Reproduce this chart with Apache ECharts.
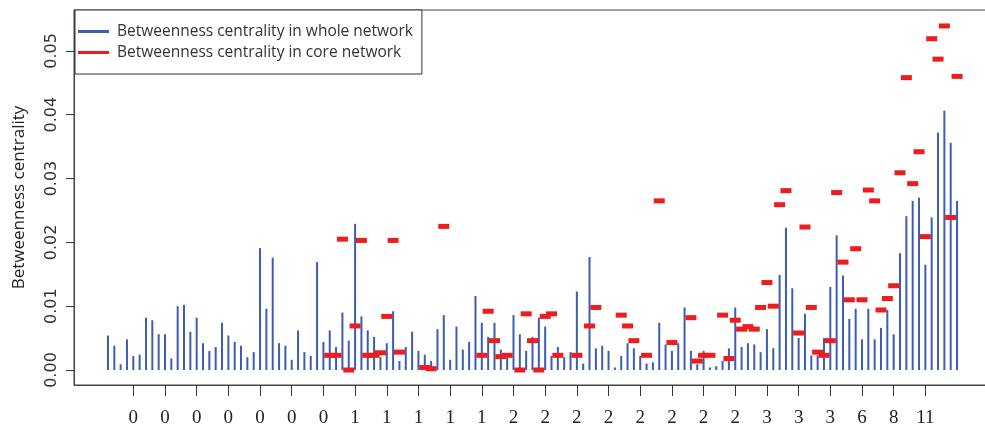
<!DOCTYPE html>
<html>
<head>
<meta charset="utf-8">
<script src="https://cdn.jsdelivr.net/npm/echarts@6/dist/echarts.min.js"></script>
<style>
html,body{margin:0;padding:0;background:#fff;}
#chart{width:985px;height:429px;}
</style>
</head>
<body>
<div id="chart"></div>
<script>
// Betweenness centrality in whole network, bars 1..135
const wholeValues = [
  0.0054,0.0038,0.0009,0.0048,0.0022,0.0024,0.0082,0.0078,0.0056,0.0056,
  0.0018,0.0100,0.0102,0.0060,0.0082,0.0042,0.0030,0.0036,0.0074,0.0054,
  0.0044,0.0038,0.0020,0.0028,0.0191,0.0096,0.0176,0.0042,0.0038,0.0016,
  0.0062,0.0028,0.0022,0.0169,0.0044,0.0062,0.0036,0.0090,0.0046,0.0229,
  0.0084,0.0062,0.0052,0.0020,0.0042,0.0092,0.0014,0.0036,0.0060,0.0030,
  0.0024,0.0014,0.0064,0.0086,0.0016,0.0068,0.0032,0.0044,0.0116,0.0074,
  0.0052,0.0074,0.0032,0.0020,0.0086,0.0056,0.0030,0.0052,0.0082,0.0068,
  0.0022,0.0036,0.0020,0.0028,0.0123,0.0010,0.0177,0.0034,0.0038,0.0030,
  0.0004,0.0022,0.0042,0.0034,0.0022,0.0010,0.0012,0.0074,0.0040,0.0030,
  0.0042,0.0098,0.0030,0.0009,0.0030,0.0004,0.0006,0.0014,0.0034,0.0098,
  0.0036,0.0042,0.0040,0.0028,0.0064,0.0034,0.0149,0.0223,0.0128,0.0050,
  0.0088,0.0023,0.0023,0.0050,0.0130,0.0211,0.0148,0.0080,0.0096,0.0048,
  0.0096,0.0048,0.0066,0.0094,0.0056,0.0183,0.0241,0.0265,0.0270,0.0165,
  0.0239,0.0372,0.0406,0.0356,0.0265
];
// Betweenness centrality in core network: bar positions and values
const coreBars = [
  36,37,38,39,40,41,42,43,44,45,46,47,51,52,54,60,61,62,63,64,
  66,67,68,69,70,71,72,75,77,78,82,83,84,86,88,90,93,94,95,96,
  98,99,100,101,102,103,104,105,106,107,108,110,111,112,113,114,115,116,117,118,
  119,120,121,122,123,124,125,126,127,128,129,130,131,132,133,134,135
];
const coreValues = [
  0.0023,0.0023,0.0205,0.0000,0.0069,0.0203,0.0023,0.0023,0.0027,0.0084,0.0203,0.0028,0.0004,0.0002,0.0225,0.0023,0.0092,0.0046,0.0021,0.0023,
  0.0000,0.0088,0.0046,0.0000,0.0084,0.0088,0.0023,0.0023,0.0069,0.0098,0.0086,0.0069,0.0046,0.0023,0.0265,0.0043,0.0082,0.0014,0.0023,0.0023,
  0.0086,0.0018,0.0078,0.0064,0.0068,0.0064,0.0098,0.0137,0.0100,0.0259,0.0281,0.0058,0.0224,0.0098,0.0028,0.0023,0.0046,0.0278,0.0169,0.0110,
  0.0190,0.0110,0.0282,0.0265,0.0094,0.0112,0.0132,0.0309,0.0458,0.0292,0.0342,0.0209,0.0519,0.0487,0.0539,0.0239,0.0460
];
// x-axis ticks and their labels
const xTickPositions = [5,10,15,20,25,30,35,40,45,50,55,60,65,70,75,80,85,90,95,100,105,110,115,120,125,130];
const xTickLabels = ['0','0','0','0','0','0','0','1','1','1','1','1','2','2','2','2','2','2','2','2','3','3','3','6','8','11'];
const yTickValues = [0, 0.01, 0.02, 0.03, 0.04, 0.05];
const seriesNames = ['Betweenness centrality in whole network', 'Betweenness centrality in core network'];
const yAxisTitle = 'Betweenness centrality';

const wholeData = wholeValues.map((v, i) => [i + 1, v]);
const coreData = coreBars.map((b, i) => [b, coreValues[i]]);

const chart = echarts.init(document.getElementById('chart'), null, {renderer: 'canvas'});
chart.setOption({
  animation: false,
  backgroundColor: '#fff',
  grid: {
    left: 74, top: 10, width: 917, height: 375,
    outerBoundsMode: 'none',
    containLabel: false,
    show: true, borderColor: '#444', borderWidth: 1, backgroundColor: 'transparent'
  },
  legend: {
    orient: 'vertical',
    left: 75, top: 10,
    padding: [13, 9, 13, 3],
    itemGap: 4,
    itemWidth: 31,
    itemHeight: 3,
    borderColor: '#333', borderWidth: 1, backgroundColor: '#fff',
    selectedMode: false,
    textStyle: {fontFamily: 'Open Sans', fontSize: 15.5, color: '#333', lineHeight: 17, padding: [0, 0, 0, 3]},
    data: [
      {name: seriesNames[0], icon: 'rect'},
      {name: seriesNames[1], icon: 'rect'}
    ]
  },
  xAxis: {
    type: 'value',
    min: -4.36, max: 140.36,
    axisLine: {show: true, onZero: false, lineStyle: {color: '#444'}},
    splitLine: {show: false},
    axisTick: {show: true, length: 11, customValues: xTickPositions, lineStyle: {color: '#333'}},
    axisLabel: {
      customValues: xTickPositions,
      margin: 24,
      fontFamily: 'Liberation Sans Narrow',
      fontSize: 19,
      color: '#222',
      formatter: function (v) {
        const k = xTickPositions.indexOf(Math.round(v));
        return k >= 0 ? xTickLabels[k] : '';
      }
    }
  },
  yAxis: {
    type: 'value',
    min: -0.00235, max: 0.0564,
    name: yAxisTitle,
    nameLocation: 'middle',
    nameGap: 46,
    nameTextStyle: {fontFamily: 'Open Sans', fontSize: 17, color: '#222'},
    axisLine: {show: true, onZero: false, lineStyle: {color: '#444'}},
    splitLine: {show: false},
    axisTick: {show: true, length: 8, customValues: yTickValues, lineStyle: {color: '#333'}},
    axisLabel: {
      customValues: yTickValues,
      rotate: 90,
      margin: 14,
      fontFamily: 'DejaVu Sans',
      fontSize: 16,
      color: '#333',
      formatter: function (v) { return v.toFixed(2); }
    }
  },
  series: [
    {
      name: seriesNames[0],
      type: 'bar',
      data: wholeData,
      barWidth: 2,
      itemStyle: {color: '#3d5db3'},
      z: 2
    },
    {
      name: seriesNames[1],
      type: 'scatter',
      data: coreData,
      symbol: 'rect',
      symbolSize: [11, 5],
      itemStyle: {color: '#ee1c1c', opacity: 1},
      z: 3
    }
  ]
});
</script>
</body>
</html>
